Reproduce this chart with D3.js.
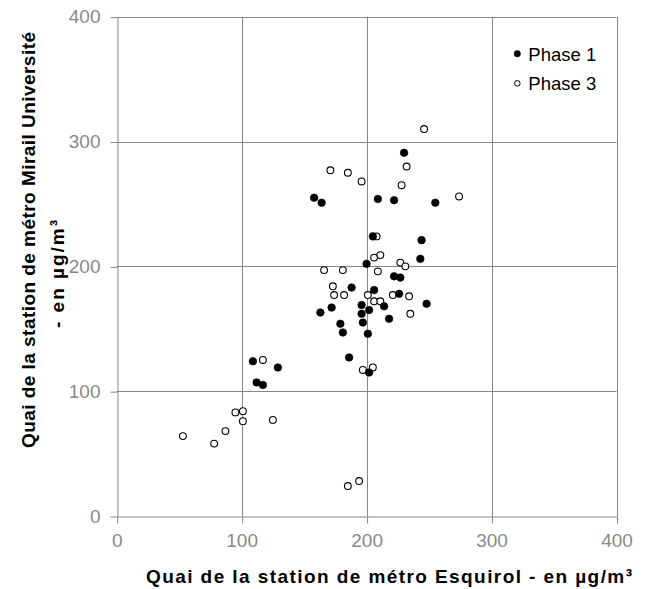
<!DOCTYPE html>
<html>
<head>
<meta charset="utf-8">
<script src="https://cdn.jsdelivr.net/npm/d3@7"></script>
<style>
  body { margin: 0; background: #fff; }
  svg { display: block; font-family: "Liberation Sans", Arial, sans-serif; }
</style>
</head>
<body>
<div id="chart"></div>
<script>
// Phase 1 (filled) and Phase 3 (open) measurements, [Esquirol, Mirail Université] in µg/m3
var phase1 = [
  [230, 291], [158, 255], [164, 251], [209, 254], [222, 253], [255, 251],
  [205, 224], [244, 221], [243, 206], [200, 202], [222, 192], [227, 191],
  [188, 183], [206, 181], [226, 178], [248, 170], [214, 168], [196, 169],
  [202, 165], [172, 167], [163, 163], [196, 162], [197, 155], [218, 158],
  [179, 154], [181, 147], [201, 146], [186, 127], [202, 115], [109, 124],
  [129, 119], [112, 107], [117, 105]
];
var phase3 = [
  [246, 310], [232, 280], [171, 277], [185, 275], [196, 268], [228, 265],
  [274, 256], [208, 224], [206, 207], [211, 209], [227, 203], [231, 200],
  [166, 197], [181, 197], [209, 196], [173, 184], [174, 177], [182, 177],
  [201, 177], [221, 177], [234, 176], [206, 172], [211, 172], [235, 162],
  [197, 117], [205, 119], [117, 125], [95, 83], [101, 84], [101, 76],
  [125, 77], [87, 68], [53, 64], [78, 58], [185, 24], [194, 28]
];
var xTicks = [0, 100, 200, 300, 400];
var yTicks = [0, 100, 200, 300, 400];
var seriesNames = ["Phase 1", "Phase 3"];

var width = 645, height = 589;
var margin = {left: 116.7, right: 28.5, top: 16.7, bottom: 73};

var svg = d3.select("#chart").append("svg")
  .attr("width", width)
  .attr("height", height);

var x = d3.scaleLinear().domain([0, 400]).range([margin.left, width - margin.right]);
var y = d3.scaleLinear().domain([0, 400]).range([height - margin.bottom, margin.top]);

var gridColor = "#878787";
var tickColor = "#898989";

// grid lines
svg.append("g")
  .selectAll("line")
  .data(xTicks.slice(1))
  .enter().append("line")
  .attr("x1", function(d) { return Math.round(x(d)) + 0.5; })
  .attr("x2", function(d) { return Math.round(x(d)) + 0.5; })
  .attr("y1", y(0)).attr("y2", y(400))
  .attr("stroke", gridColor);

svg.append("g")
  .selectAll("line")
  .data(yTicks.slice(1))
  .enter().append("line")
  .attr("y1", function(d) { return Math.round(y(d)) + 0.5; })
  .attr("y2", function(d) { return Math.round(y(d)) + 0.5; })
  .attr("x1", x(0)).attr("x2", x(400))
  .attr("stroke", gridColor);

// axes
var xAxis = svg.append("g")
  .attr("transform", "translate(0," + (Math.round(y(0)) + 0.5) + ")")
  .call(d3.axisBottom(x).tickValues(xTicks).tickSizeInner(7).tickSizeOuter(0).tickPadding(10));
var yAxis = svg.append("g")
  .attr("transform", "translate(" + (Math.round(x(0)) + 0.5) + ",0)")
  .call(d3.axisLeft(y).tickValues(yTicks).tickSizeInner(7).tickSizeOuter(0).tickPadding(10));

[xAxis, yAxis].forEach(function(a) {
  a.select(".domain").attr("stroke", gridColor);
  a.selectAll(".tick line").attr("stroke", gridColor);
  a.selectAll(".tick text")
    .attr("fill", tickColor)
    .style("font-size", "19px")
    .style("font-family", "'Liberation Sans', Arial, sans-serif");
});
xAxis.selectAll(".tick line").attr("x1", 0.5).attr("x2", 0.5);
yAxis.selectAll(".tick line").attr("y1", 0.5).attr("y2", 0.5);

// points
function drawSeries(data, filled) {
  svg.append("g")
    .selectAll("circle")
    .data(data)
    .enter().append("circle")
    .attr("cx", function(d) { return x(d[0]); })
    .attr("cy", function(d) { return y(d[1]); })
    .attr("r", filled ? 3.8 : 3.4)
    .attr("fill", filled ? "#000" : "#fff")
    .attr("stroke", "#000")
    .attr("stroke-width", filled ? 0.6 : 1.1);
}
drawSeries(phase3, false);
drawSeries(phase1, true);

// legend
var legend = svg.append("g").attr("transform", "translate(517.3,53.7)");
seriesNames.forEach(function(name, i) {
  var row = legend.append("g").attr("transform", "translate(0," + (i * 29.6) + ")");
  row.append("circle")
    .attr("r", i === 0 ? 3.2 : 2.8)
    .attr("fill", i === 0 ? "#000" : "#fff")
    .attr("stroke", "#000")
    .attr("stroke-width", i === 0 ? 0.5 : 1);
  row.append("text")
    .attr("x", 11)
    .attr("y", 7)
    .attr("fill", "#000")
    .style("font-size", "18.5px")
    .text(name);
});

// axis titles (the original renders them a bit wider, so stretch the spacing)
svg.append("text")
  .attr("x", 389)
  .attr("y", 583)
  .attr("text-anchor", "middle")
  .attr("textLength", 486)
  .attr("lengthAdjust", "spacing")
  .style("font-size", "19px")
  .style("font-weight", "bold")
  .text("Quai de la station de métro Esquirol - en µg/m³");

svg.append("text")
  .attr("transform", "translate(35,240) rotate(-90)")
  .attr("text-anchor", "middle")
  .attr("textLength", 416)
  .attr("lengthAdjust", "spacing")
  .style("font-size", "19px")
  .style("font-weight", "bold")
  .text("Quai de la station de métro Mirail Université");

svg.append("text")
  .attr("transform", "translate(64,274) rotate(-90)")
  .attr("text-anchor", "middle")
  .attr("textLength", 108)
  .attr("lengthAdjust", "spacing")
  .style("font-size", "19px")
  .style("font-weight", "bold")
  .text("- en µg/m³");
</script>
</body>
</html>
